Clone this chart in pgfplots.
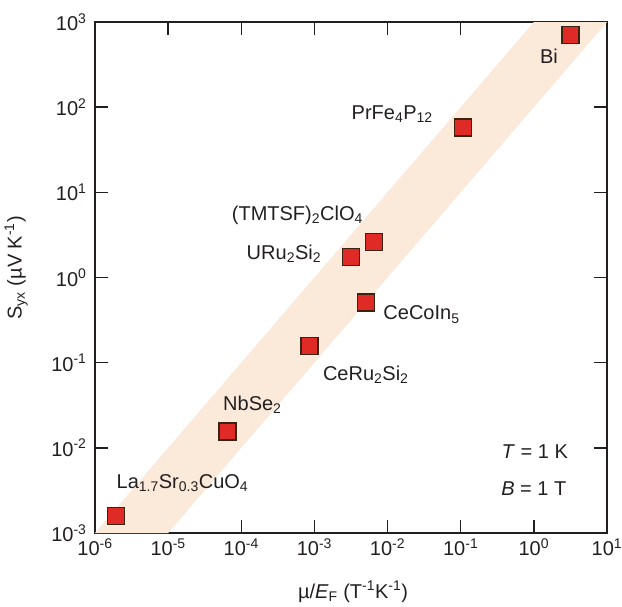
\documentclass[border=0pt]{standalone}
\usepackage{fontspec}
\setmainfont{Liberation Sans}
\usepackage{pgfplots}
\pgfplotsset{compat=1.18}
\definecolor{band}{HTML}{FBE9DA}
\definecolor{mred}{HTML}{E02A26}
\definecolor{mdark}{HTML}{3B2314}
\definecolor{txt}{HTML}{231F20}
\newcommand{\bigf}{\fontsize{20}{24}\selectfont}
\begin{document}
\begin{tikzpicture}
\begin{axis}[
  name=ax,
  scale only axis,
  width=512pt, height=511pt,
  xmode=log, ymode=log,
  xmin=1e-6, xmax=10, ymin=1e-3, ymax=1e3,
  clip=false,
  axis line style={line width=1.6pt, draw=txt},
  every tick/.style={line width=1.5pt, draw=txt},
  major tick length=13pt,
  minor tick num=0,
  tick align=inside,
  xtick={1e-6,1e-5,1e-4,1e-3,1e-2,1e-1,1,10},
  xticklabels={10\textsuperscript{-6},10\textsuperscript{-5},10\textsuperscript{-4},10\textsuperscript{-3},10\textsuperscript{-2},10\textsuperscript{-1},10\textsuperscript{0},10\textsuperscript{1}},
  ytick={1e-3,1e-2,1e-1,1,10,100,1000},
  yticklabels={10\textsuperscript{-3},10\textsuperscript{-2},10\textsuperscript{-1},10\textsuperscript{0},10\textsuperscript{1},10\textsuperscript{2},10\textsuperscript{3}},
  xminorticks=false, yminorticks=false,
  tick label style={font=\bigf, text=txt},
  yticklabel style={xshift=-5pt},
  xticklabel style={yshift=-2pt},
  xlabel={\textmu/\textit{E}\textsubscript{F} (T\textsuperscript{-1}K\textsuperscript{-1})},
  xlabel style={font=\bigf, text=txt, at={(axis description cs:0.504,-0.128)}, anchor=base},
  ylabel={S\textsubscript{yx} (\textmu V K\textsuperscript{-1})},
  ylabel style={font=\bigf, text=txt, at={(axis description cs:-0.154,0.519)}, anchor=center},
]
% band between y = 100 x and y = 1000 x
\addplot[fill=band, draw=none] coordinates {
  (1e-6,1e-3) (1,1000) (10,1000) (1e-5,1e-3)
} -- cycle;
% data
\addplot[only marks, mark=square*, mark size=8.5pt,
  mark options={fill=mred, draw=mdark, line width=1.5pt}] coordinates {
  (1.94e-6,1.58e-3)
  (6.5e-5,0.0155)
  (8.5e-4,0.158)
  (5.1e-3,0.51)
  (3.15e-3,1.73)
  (6.56e-3,2.62)
  (0.108,57.8)
  (3.18,706)
};
\begin{scope}[every node/.style={font=\bigf, text=txt, inner sep=0pt}]
\node[anchor=base west] at (rel axis cs:0.869,0.918) {Bi};
\node[anchor=base west] at (rel axis cs:0.501,0.810) {PrFe\textsubscript{4}P\textsubscript{12}};
\node[anchor=base west] at (rel axis cs:0.267,0.611) {(TMTSF)\textsubscript{2}ClO\textsubscript{4}};
\node[anchor=base west] at (rel axis cs:0.296,0.536) {URu\textsubscript{2}Si\textsubscript{2}};
\node[anchor=base west] at (rel axis cs:0.563,0.417) {CeCoIn\textsubscript{5}};
\node[anchor=base west] at (rel axis cs:0.445,0.299) {CeRu\textsubscript{2}Si\textsubscript{2}};
\node[anchor=base west] at (rel axis cs:0.250,0.239) {NbSe\textsubscript{2}};
\node[anchor=base west] at (rel axis cs:0.042,0.088) {La\textsubscript{1.7}Sr\textsubscript{0.3}CuO\textsubscript{4}};
\node[anchor=base east] at (rel axis cs:0.924,0.145) {\textit{T} = 1 K};
\node[anchor=base east] at (rel axis cs:0.921,0.074) {\textit{B} = 1 T};
\end{scope}
\end{axis}
\pgfresetboundingbox
\path ([shift={(-95pt,-73pt)}]ax.south west) rectangle ++(622pt,606pt);
\end{tikzpicture}
\end{document}
